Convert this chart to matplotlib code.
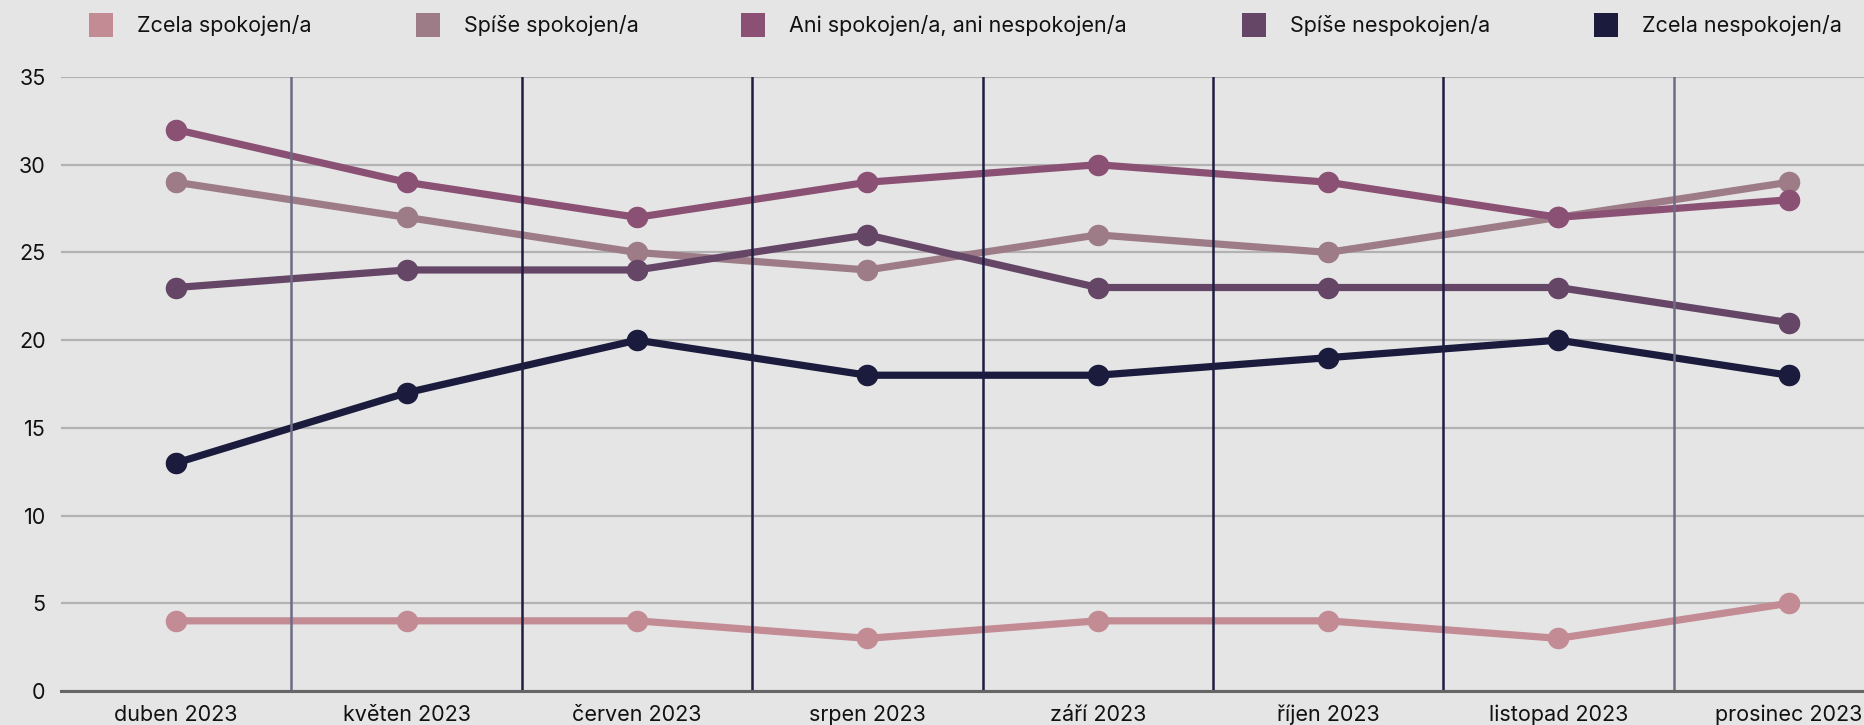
import matplotlib
matplotlib.use("Agg")
import matplotlib.pyplot as plt
from matplotlib.patches import Rectangle

plt.rcParams['font.family'] = ['Inter', 'DejaVu Sans']

# data
months = ['duben 2023', 'květen 2023', 'červen 2023', 'srpen 2023',
          'září 2023', 'říjen 2023', 'listopad 2023', 'prosinec 2023']
series_names = ['Zcela spokojen/a', 'Spíše spokojen/a', 'Ani spokojen/a, ani nespokojen/a',
                'Spíše nespokojen/a', 'Zcela nespokojen/a']
zcela_spok = [4, 4, 4, 3, 4, 4, 3, 5]
spise_spok = [29, 27, 25, 24, 26, 25, 27, 29]
ani_ani = [32, 29, 27, 29, 30, 29, 27, 28]
spise_nespok = [23, 24, 24, 26, 23, 23, 23, 21]
zcela_nespok = [13, 17, 20, 18, 18, 19, 20, 18]
yticks = [0, 5, 10, 15, 20, 25, 30, 35]

values = [zcela_spok, spise_spok, ani_ani, spise_nespok, zcela_nespok]
colors = ['#c38b94', '#9d7c87', '#8b5174', '#654667', '#1b1b3e']

bg = '#e5e5e5'
W, H = 1864, 725
fig = plt.figure(figsize=(W / 100, H / 100), dpi=100, facecolor=bg)
ax = fig.add_axes([61 / W, 1 - 691 / H, (1904 - 61) / W, (691 - 77) / H], facecolor=bg)

x = list(range(len(months)))
for vals, c in zip(values, colors):
    ax.plot(x, vals, color=c, lw=5.2, marker='o', markersize=14.5,
            solid_capstyle='round', zorder=3)

# separators between months
for i in range(len(months) - 1):
    sep_c = '#6e6b84' if i in (0, len(months) - 2) else '#1f1d42'
    ax.plot([i + 0.5, i + 0.5], [0, 35], color=sep_c, lw=1.8, zorder=4)

ax.set_xlim(-0.5, len(months) - 0.5)
ax.set_ylim(0, 35)
ax.set_yticks(yticks)
ax.set_xticks(x)
ax.set_xticklabels(months)
ax.grid(axis='y', color='#b2b2b2', lw=1.6, zorder=1)
ax.set_axisbelow(True)
for s in ['top', 'right', 'left']:
    ax.spines[s].set_visible(False)
ax.spines['bottom'].set_color('#666666')
ax.spines['bottom'].set_linewidth(2.2)
ax.spines['bottom'].set_zorder(5)
ax.tick_params(axis='both', length=0, labelsize=15.5, colors='#111111')
ax.tick_params(axis='x', pad=10)
ax.tick_params(axis='y', pad=11)

# legend across the top
sq_x = [89, 416, 741, 1242, 1594]
for name, c, sx in zip(series_names, colors, sq_x):
    fig.patches.append(Rectangle((sx / W, 1 - 37 / H), 24 / W, 24 / H,
                                 transform=fig.transFigure, facecolor=c,
                                 edgecolor='none'))
    fig.text((sx + 48) / W, 1 - 25 / H, name, ha='left', va='center',
             fontsize=15.5, color='#111111')

fig.savefig('out.png', dpi=100, facecolor=bg)
